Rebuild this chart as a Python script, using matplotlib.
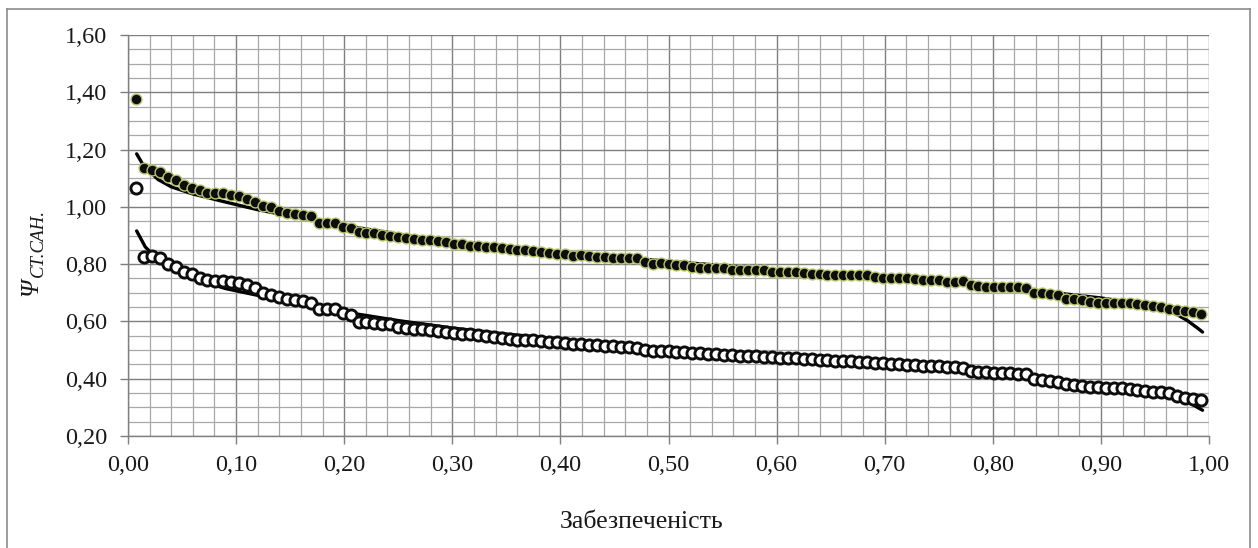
import numpy as np
import matplotlib
matplotlib.use("Agg")
import matplotlib.pyplot as plt
from matplotlib.ticker import MultipleLocator, FixedLocator, FixedFormatter
from matplotlib.lines import Line2D

# ---------------- data ----------------
n_points = 135
probability = np.arange(1, n_points + 1) / (n_points + 1)

series_upper = [
    1.375, 1.134, 1.128, 1.122, 1.103, 1.093, 1.076, 1.067, 1.058, 1.049,
    1.047, 1.047, 1.041, 1.037, 1.026, 1.017, 1.002, 0.998, 0.985, 0.979,
    0.975, 0.971, 0.967, 0.944, 0.944, 0.942, 0.930, 0.927,
    0.912, 0.909, 0.907, 0.903, 0.900, 0.895, 0.892, 0.888, 0.886, 0.886,
    0.880, 0.877, 0.872, 0.869, 0.865, 0.865, 0.860, 0.860, 0.857, 0.853,
    0.851, 0.849, 0.845, 0.842, 0.840, 0.837, 0.837, 0.830,
    0.831, 0.828, 0.826, 0.826, 0.823, 0.820, 0.820, 0.820, 0.808, 0.802,
    0.805, 0.802, 0.797, 0.797, 0.791, 0.788, 0.788, 0.788, 0.785, 0.781,
    0.781, 0.779, 0.779, 0.779, 0.773, 0.773, 0.773,
    0.773, 0.770, 0.767, 0.767, 0.762, 0.762, 0.762, 0.762, 0.762, 0.762,
    0.756, 0.753, 0.750, 0.750, 0.750, 0.747, 0.744, 0.744, 0.744, 0.738,
    0.738, 0.742, 0.727, 0.723, 0.721, 0.721, 0.721, 0.721,
    0.721, 0.715, 0.700, 0.698, 0.695, 0.692, 0.680, 0.677, 0.674, 0.669,
    0.665, 0.665, 0.665, 0.665, 0.665, 0.660, 0.657, 0.653, 0.651, 0.645,
    0.640, 0.637, 0.634, 0.626,
]

series_lower = [
    1.065, 0.826, 0.828, 0.820, 0.800, 0.791, 0.773, 0.765, 0.753, 0.744,
    0.742, 0.742, 0.738, 0.733, 0.727, 0.715, 0.698, 0.692, 0.684, 0.680,
    0.674, 0.672, 0.665, 0.642, 0.642, 0.645, 0.628, 0.622,
    0.598, 0.598, 0.594, 0.592, 0.590, 0.580, 0.578, 0.574, 0.574, 0.571,
    0.566, 0.563, 0.559, 0.555, 0.555, 0.551, 0.548, 0.545, 0.543, 0.540,
    0.536, 0.534, 0.534, 0.531, 0.528, 0.528, 0.524, 0.522,
    0.520, 0.519, 0.517, 0.515, 0.514, 0.512, 0.510, 0.508, 0.500, 0.498,
    0.497, 0.496, 0.494, 0.492, 0.490, 0.489, 0.487, 0.485, 0.484, 0.482,
    0.481, 0.480, 0.478, 0.477, 0.476, 0.474, 0.473, 0.471, 0.470, 0.468,
    0.466, 0.465, 0.463, 0.462, 0.461, 0.460, 0.458, 0.456, 0.454, 0.452,
    0.450, 0.448, 0.447, 0.446, 0.444, 0.443, 0.441, 0.440, 0.437, 0.428,
    0.425, 0.422, 0.421, 0.420, 0.419, 0.417, 0.415, 0.398, 0.395, 0.392,
    0.388, 0.382, 0.378, 0.375, 0.372, 0.370, 0.368, 0.367, 0.366, 0.365,
    0.362, 0.358, 0.355, 0.352, 0.349, 0.340, 0.333, 0.330, 0.325,
]

trend_upper_x = [0.008, 0.015, 0.028, 0.04, 0.06, 0.09, 0.12, 0.15, 0.20, 0.25,
                 0.30, 0.35, 0.40, 0.45, 0.50, 0.55, 0.60, 0.65, 0.70, 0.75,
                 0.80, 0.85, 0.90, 0.93, 0.95, 0.97, 0.98, 0.99, 0.994]
trend_upper_y = [1.185, 1.140, 1.095, 1.070, 1.045, 1.017, 0.990, 0.968, 0.935, 0.905,
                 0.880, 0.862, 0.842, 0.826, 0.810, 0.795, 0.780, 0.765, 0.752, 0.738,
                 0.722, 0.703, 0.682, 0.665, 0.650, 0.625, 0.603, 0.575, 0.563]

trend_lower_x = [0.008, 0.016, 0.028, 0.044, 0.06, 0.09, 0.12, 0.15, 0.18, 0.21,
                 0.25, 0.30, 0.35, 0.40, 0.45, 0.50, 0.55, 0.60, 0.65, 0.70,
                 0.75, 0.80, 0.85, 0.90, 0.93, 0.96, 0.98, 0.994]
trend_lower_y = [0.916, 0.860, 0.814, 0.779, 0.750, 0.715, 0.691, 0.668, 0.646, 0.627,
                 0.603, 0.577, 0.556, 0.538, 0.520, 0.503, 0.488, 0.474, 0.461, 0.449,
                 0.436, 0.421, 0.401, 0.377, 0.362, 0.343, 0.320, 0.290]

x_ticks = [0.0, 0.1, 0.2, 0.3, 0.4, 0.5, 0.6, 0.7, 0.8, 0.9, 1.0]
x_tick_labels = ["0,00", "0,10", "0,20", "0,30", "0,40", "0,50", "0,60", "0,70", "0,80", "0,90", "1,00"]
y_ticks = [0.2, 0.4, 0.6, 0.8, 1.0, 1.2, 1.4, 1.6]
y_tick_labels = ["0,20", "0,40", "0,60", "0,80", "1,00", "1,20", "1,40", "1,60"]
x_label = "Забезпеченість"
y_label_main = "Ψ"
y_label_sub = "СТ.САН."

# ---------------- figure ----------------
W, H = 1258, 548
plt.rcParams['font.family'] = ['Liberation Serif', 'DejaVu Serif']
fig = plt.figure(figsize=(W / 100, H / 100), dpi=100)

# outer chart frame
frame_kw = dict(color='#8c8c8c', lw=1.2, transform=fig.transFigure)
fig.add_artist(Line2D([7 / W, 7 / W], [0, 1 - 9 / H], **frame_kw))
fig.add_artist(Line2D([7 / W, 1250 / W], [1 - 9 / H, 1 - 9 / H], **frame_kw))
fig.add_artist(Line2D([1250 / W, 1250 / W], [0, 1 - 9 / H], **frame_kw))

ax_l, ax_r, ax_t, ax_b = 128, 1209, 35, 436
ax = fig.add_axes([ax_l / W, 1 - ax_b / H, (ax_r - ax_l) / W, (ax_b - ax_t) / H])
ax.set_xlim(0, 1.0)
ax.set_ylim(0.2, 1.6)

ax.xaxis.set_major_locator(FixedLocator(x_ticks))
ax.xaxis.set_major_formatter(FixedFormatter(x_tick_labels))
ax.yaxis.set_major_locator(FixedLocator(y_ticks))
ax.yaxis.set_major_formatter(FixedFormatter(y_tick_labels))
ax.xaxis.set_minor_locator(MultipleLocator(0.02))
ax.yaxis.set_minor_locator(MultipleLocator(0.05))

ax.grid(which='minor', color='#a8a8a8', lw=0.9)
ax.grid(which='major', color='#7f7f7f', lw=1.0)
ax.set_axisbelow(True)
for s in ['top', 'right']:
    ax.spines[s].set_visible(False)
for s in ['left', 'bottom']:
    ax.spines[s].set_color('#7f7f7f')
    ax.spines[s].set_linewidth(1.0)

ax.tick_params(which='major', direction='out', length=6, width=1.0, color='#7f7f7f',
               labelsize=17.5, labelcolor='#1a1a1a')
ax.tick_params(axis='y', which='major', pad=9)
ax.tick_params(axis='x', which='major', pad=8)
ax.tick_params(which='minor', length=0)

# trend lines
ax.plot(trend_upper_x, trend_upper_y, color='black', lw=2.4, zorder=3, solid_capstyle='round')
ax.plot(trend_lower_x, trend_lower_y, color='black', lw=2.4, zorder=3, solid_capstyle='round')

# data points
ax.plot(probability, series_upper, ls='none', marker='o', ms=7.8,
        mfc='#0d0d0d', mec='#b4c46a', mew=1.0, zorder=4)
ax.plot(probability, series_lower, ls='none', marker='o', ms=8.0,
        mfc='white', mec='#0d0d0d', mew=2.1, zorder=4)

# axis labels
fig.text(642 / W, 1 - 522 / H, x_label, ha='center', va='center', fontsize=18.5, color='#1a1a1a')
fig.text(31 / W, 1 - 287 / H, y_label_main, ha='center', va='center', rotation=90,
         fontsize=18, style='italic', color='#1a1a1a')
fig.text(38 / W, 1 - 277 / H, y_label_sub, ha='center', va='bottom', rotation=90,
         fontsize=13.5, style='italic', color='#1a1a1a')

fig.savefig('out.png', dpi=100)
